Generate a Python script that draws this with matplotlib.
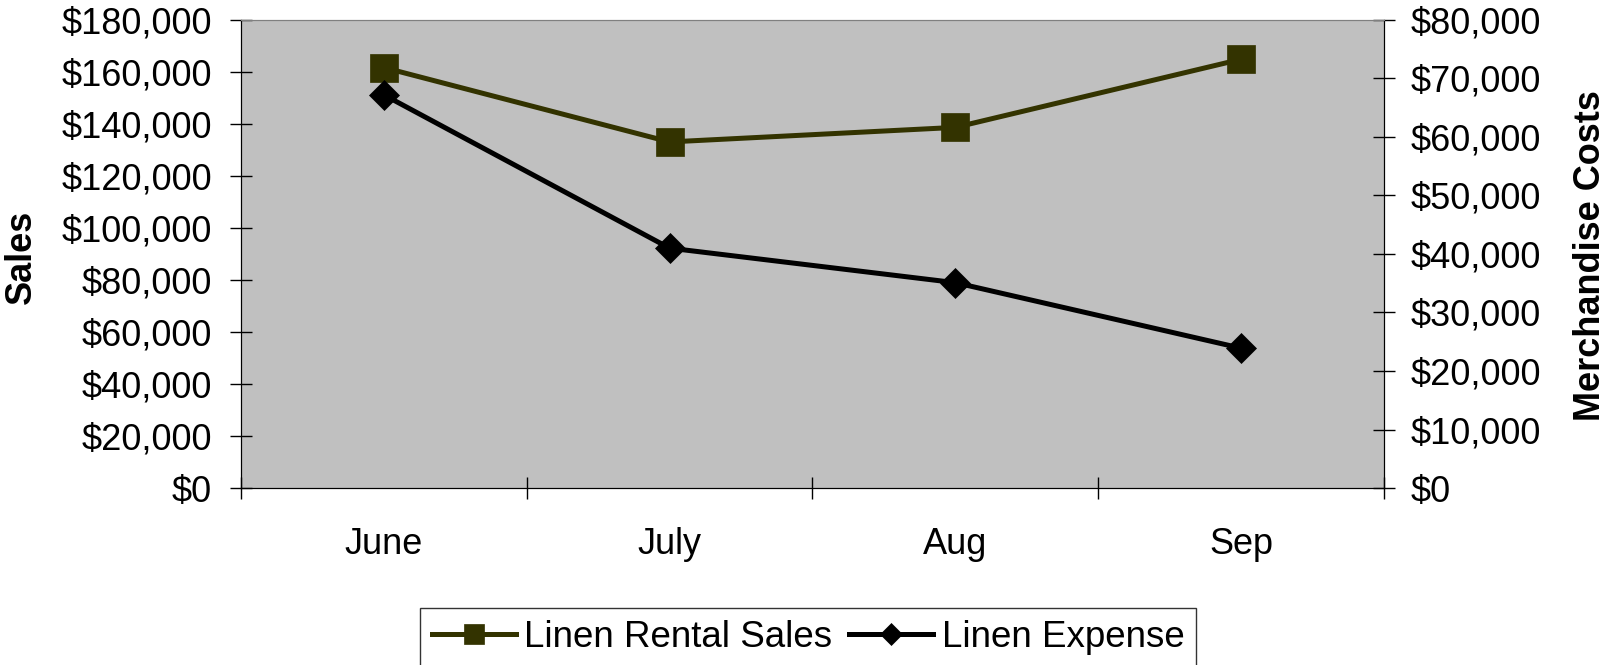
import numpy as np
import matplotlib.pyplot as plt
from matplotlib.ticker import FuncFormatter, FixedLocator

plt.rcParams['font.family'] = ['Liberation Sans', 'DejaVu Sans']

months = ['June', 'July', 'Aug', 'Sep']
rental_sales = [161700, 133100, 138700, 164900]
linen_expense = [67200, 41000, 35100, 23900]

sales_ticks = np.arange(0, 180001, 20000)
cost_ticks = np.arange(0, 80001, 10000)

olive = '#333300'
fs = 26

fig = plt.figure(figsize=(16.06, 6.65), dpi=100)
ax = fig.add_axes([241 / 1606, 1 - 488 / 665, 1143 / 1606, 468 / 665])
ax2 = ax.twinx()

x = np.arange(len(months))
ax.set_facecolor('#c0c0c0')
l1, = ax.plot(x, rental_sales, color=olive, lw=3.6, marker='s', ms=20,
              mfc=olive, mec=olive, mew=0.5, label='Linen Rental Sales')
l2, = ax2.plot(x, linen_expense, color='black', lw=3.6, marker='D', ms=15,
               mfc='black', mec='black', mew=0.5, label='Linen Expense')

ax.set_xlim(-0.5, len(months) - 0.5)
ax.set_ylim(0, 180000)
ax2.set_ylim(0, 80000)
ax.set_yticks(sales_ticks)
ax2.set_yticks(cost_ticks)

money = FuncFormatter(lambda v, p: '${:,.0f}'.format(v))
ax.yaxis.set_major_formatter(money)
ax2.yaxis.set_major_formatter(money)

# category labels sit between tick marks
ax.xaxis.set_major_locator(FixedLocator(np.arange(-0.5, len(months), 1.0)))
ax.xaxis.set_minor_locator(FixedLocator(x))
ax.set_xticklabels([], minor=False)
ax.set_xticks(x, months, minor=True)
ax.tick_params(axis='x', which='major', direction='inout', length=16, width=1)
ax.tick_params(axis='x', which='minor', length=0, pad=28, labelsize=fs)

ax.tick_params(axis='y', direction='inout', length=16, width=1, pad=13, labelsize=fs)
ax2.tick_params(axis='y', direction='inout', length=16, width=1, pad=11, labelsize=fs)

for a in (ax, ax2):
    a.spines['top'].set_color('#808080')
    a.spines['left'].set_color('black')
    a.spines['right'].set_color('black')
    a.spines['bottom'].set_color('black')

fig.text(21 / 1606, 1 - 257 / 665, 'Sales', rotation=90, ha='center', va='center',
         fontsize=26, fontweight='bold')
fig.text(1591 / 1606, 1 - 256 / 665, 'Merchandise Costs', rotation=90, ha='center',
         va='center', fontsize=26, fontweight='bold')

leg = fig.legend([l1, l2], ['Linen Rental Sales', 'Linen Expense'], ncol=2,
                 loc='upper center', bbox_to_anchor=(808 / 1606, 1 - 608 / 665),
                 borderaxespad=0, fontsize=26.5, frameon=True, fancybox=False,
                 edgecolor='black', markerscale=0.72, handlelength=2.3,
                 handletextpad=0.22, columnspacing=0.44, borderpad=0.33)
leg.get_frame().set_linewidth(1)

fig.savefig('out.png', dpi=100)
